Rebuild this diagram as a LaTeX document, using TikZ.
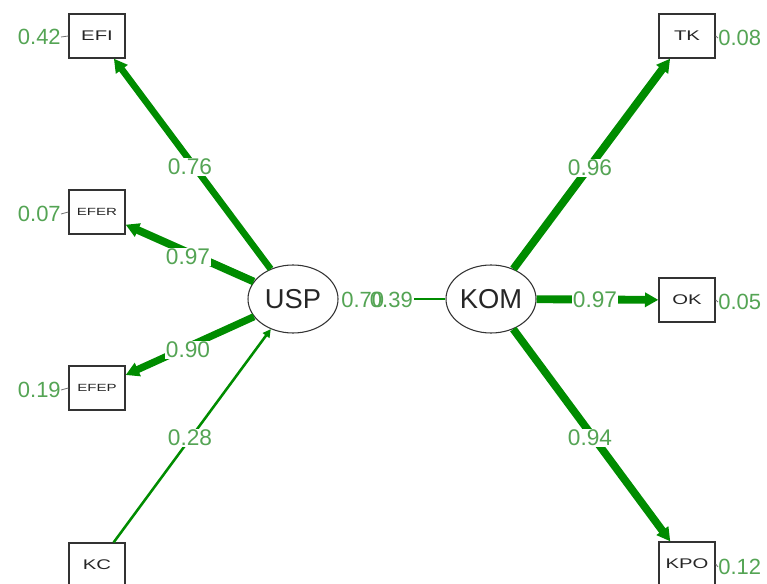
\documentclass[tikz,border=0pt]{standalone}
\usepackage{fontspec}
\setmainfont{Liberation Sans}
\newfontfamily\boxfont[FakeStretch=1.45]{Liberation Sans}
\usetikzlibrary{arrows.meta,shapes.geometric}
\definecolor{edgegreen}{RGB}{0,140,0}
\definecolor{labgreen}{RGB}{84,164,84}
\begin{document}
\begin{tikzpicture}[x=0.75pt,y=-0.75pt,
  mbox/.style={draw=black!80,line width=1pt,minimum width=42pt,minimum height=33pt,inner sep=0pt,
    text=black!85,font=\boxfont\fontsize{10.5}{11}\selectfont},
  smallbox/.style={font=\boxfont\fontsize{7.8}{9}\selectfont},
  latent/.style={ellipse,draw=black!80,line width=0.8pt,minimum width=67.5pt,minimum height=51pt,
    inner sep=0pt,text=black!85,font=\fontsize{20.5}{22}\selectfont},
  wlab/.style={fill=white,inner sep=0.5pt,text=labgreen,font=\fontsize{17}{19}\selectfont},
  rlab/.style={inner sep=0pt,text=labgreen,font=\fontsize{16.5}{19}\selectfont},
  load/.style={draw=edgegreen,-{Triangle[length=10pt,width=10.5pt]}},
  thinload/.style={draw=edgegreen,-{Triangle[length=6pt,width=6pt]}},
  resid/.style={draw=black!55,line width=0.6pt}]
\useasboundingbox (0,0) rectangle (767,584);
% nodes
\node[mbox] (EFI) at (97,36) {EFI};
\node[mbox,smallbox] (EFER) at (97,212) {EFER};
\node[mbox,smallbox] (EFEP) at (97,388) {EFEP};
\node[mbox] (KC) at (97,565) {KC};
\node[mbox] (TK) at (687,36) {TK};
\node[mbox] (OK) at (687,300) {OK};
\node[mbox] (KPO) at (687,564) {KPO};
\node[latent] (USP) at (293,299) {USP};
\node[latent] (KOM) at (491,299) {KOM};
% loadings
\draw[load,line width=5pt] (USP) -- (EFI);
\draw[load,line width=5.8pt] (USP) -- (EFER);
\draw[load,line width=5.4pt] (USP) -- (EFEP);
\draw[thinload,line width=1.9pt] (KC) -- (USP);
\draw[load,line width=5.9pt] (KOM) -- (TK);
\draw[load,line width=5.9pt] (KOM) -- (OK);
\draw[load,line width=5.8pt] (KOM) -- (KPO);
\draw[draw=edgegreen,line width=1.7pt] (USP) -- (KOM);
% edge labels
\node[wlab] (l76) at (190,167) {0.76};
\node[wlab] (l97a) at (188,257) {0.97};
\node[wlab] (l90) at (188,350) {0.90};
\node[wlab] (l28) at (190,438) {0.28};
\node[wlab] (l96) at (590,168) {0.96};
\node[wlab] (l97b) at (595,300) {0.97};
\node[wlab] (l94) at (590,438) {0.94};
\fill[white] (339,289) rectangle (414,311);
\node[rlab,anchor=west] (l70) at (341,300) {0.70};
\node[rlab,anchor=east] (l39) at (413,300) {0.39};
% residuals
\node[rlab,anchor=east] (r42) at (61,37) {0.42};
\node[rlab,anchor=east] (r07) at (61,214) {0.07};
\node[rlab,anchor=east] (r19) at (61,390) {0.19};
\node[rlab,anchor=west] (r08) at (718,38) {0.08};
\node[rlab,anchor=west] (r05) at (718,302) {0.05};
\node[rlab,anchor=west] (r12) at (718,567) {0.12};
\draw[resid] (r42.east) -- (EFI.west);
\draw[resid] (r07.east) -- (EFER.west);
\draw[resid] (r19.east) -- (EFEP.west);
\draw[resid] (TK.east) -- (r08.west);
\draw[resid] (OK.east) -- (r05.west);
\draw[resid] (KPO.east) -- (r12.west);
\end{tikzpicture}
\end{document}
